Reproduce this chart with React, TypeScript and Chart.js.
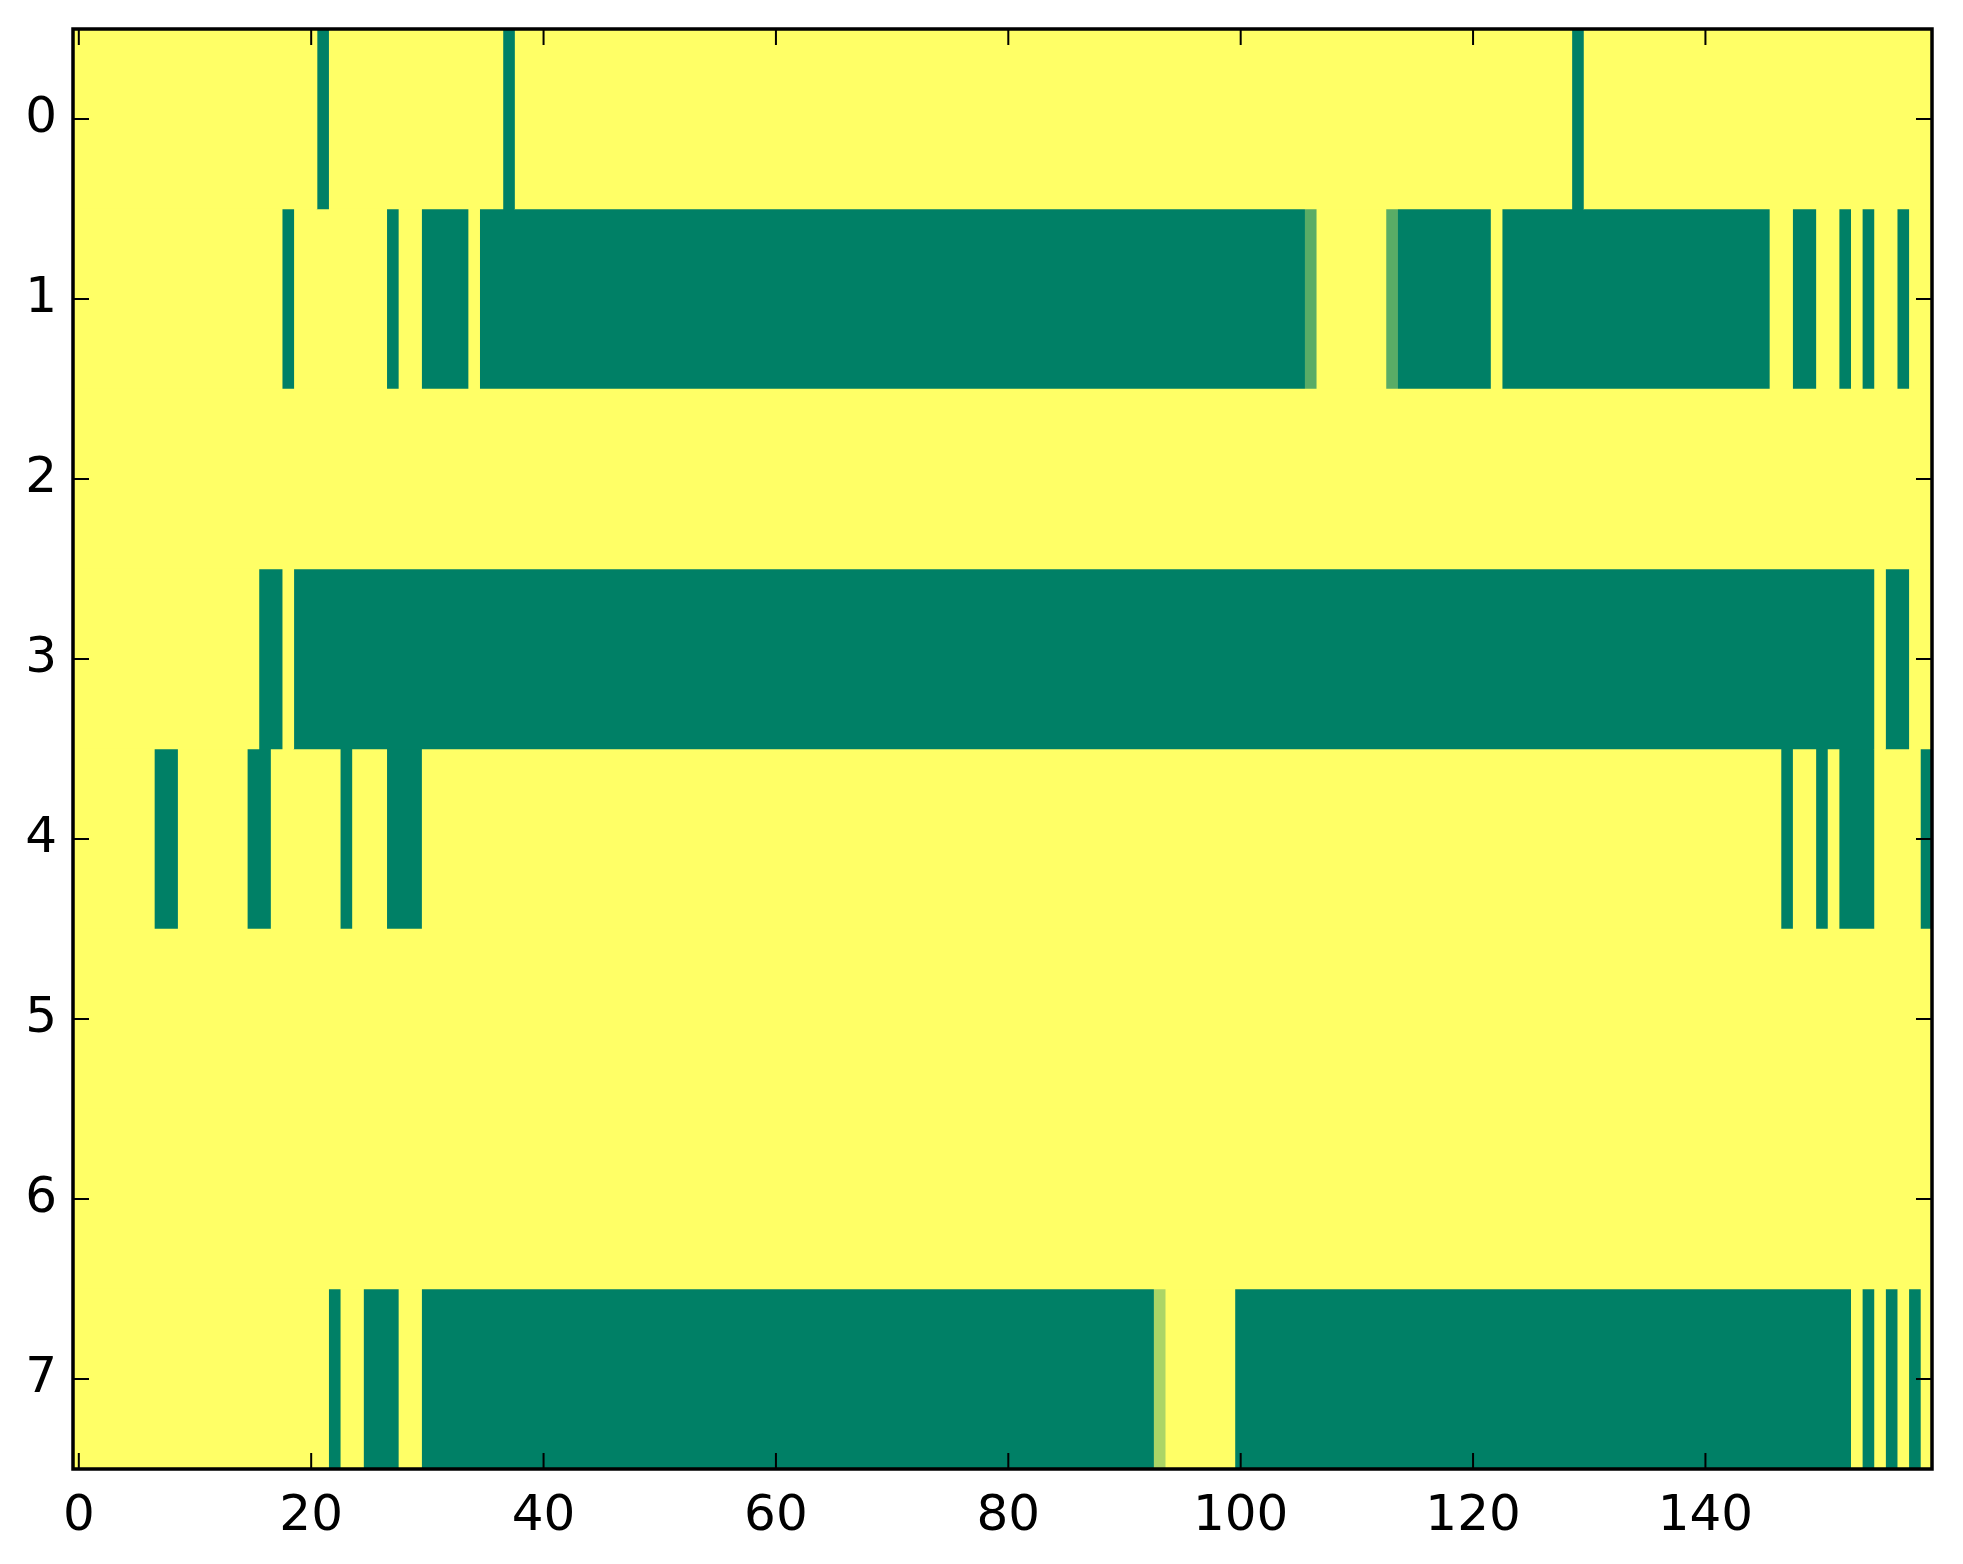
import React, { useEffect, useRef } from "react";
import { Chart, registerables } from "chart.js";

Chart.register(...registerables);

// Row labels (y axis, top to bottom) and x tick values
const rowLabels = ["0", "1", "2", "3", "4", "5", "6", "7"];
const xTickValues = [0, 20, 40, 60, 80, 100, 120, 140];
const columnCount = 160;
const backgroundValue = 1;

// Non-background cells per row: [firstColumn, lastColumn, value]
const row0 = [[21, 21, 0], [37, 37, 0], [129, 129, 0]];
const row1 = [
  [18, 18, 0], [27, 27, 0], [30, 33, 0], [35, 105, 0], [106, 106, 0.35],
  [113, 113, 0.35], [114, 121, 0], [123, 145, 0], [148, 149, 0],
  [152, 152, 0], [154, 154, 0], [157, 157, 0],
];
const row2: number[][] = [];
const row3 = [[16, 17, 0], [19, 154, 0], [156, 157, 0]];
const row4 = [
  [7, 8, 0], [15, 16, 0], [23, 23, 0], [27, 29, 0], [147, 147, 0],
  [150, 150, 0], [152, 154, 0], [159, 159, 0],
];
const row5: number[][] = [];
const row6: number[][] = [];
const row7 = [
  [22, 22, 0], [25, 27, 0], [30, 92, 0], [93, 93, 0.67], [100, 152, 0],
  [154, 154, 0], [156, 156, 0], [158, 158, 0],
];
const rowCells = [row0, row1, row2, row3, row4, row5, row6, row7];

// matplotlib "summer" colormap
function summer(v: number): string {
  const r = Math.round(255 * v);
  const g = Math.round(255 * (0.5 + 0.5 * v));
  return `rgb(${r}, ${g}, 102)`;
}

function buildMatrix(): number[][] {
  return rowCells.map((cells) => {
    const row = new Array(columnCount).fill(backgroundValue);
    cells.forEach(([a, b, v]) => {
      for (let c = a; c <= b; c++) row[c] = v;
    });
    return row;
  });
}

type Seg = { start: number; end: number; value: number };

function segmentsOf(row: number[]): Seg[] {
  const segs: Seg[] = [];
  let start = 0;
  for (let c = 1; c <= row.length; c++) {
    if (c === row.length || row[c] !== row[start]) {
      segs.push({ start, end: c - 1, value: row[start] });
      start = c;
    }
  }
  return segs;
}

const FONT = "'DejaVu Sans', 'Liberation Sans', sans-serif";

export default function App() {
  const canvasRef = useRef<HTMLCanvasElement | null>(null);

  useEffect(() => {
    document.body.style.margin = "0";
    const canvas = canvasRef.current;
    if (!canvas) return;

    const matrix = buildMatrix();
    const rowSegs = matrix.map(segmentsOf);
    const maxSegs = Math.max(...rowSegs.map((s) => s.length));
    const datasets: any[] = [];
    for (let k = 0; k < maxSegs; k++) {
      datasets.push({
        data: rowSegs.map((segs) =>
          segs[k] ? [segs[k].start - 0.5, segs[k].end + 0.5] : null
        ),
        backgroundColor: rowSegs.map((segs) =>
          segs[k] ? summer(segs[k].value) : "rgba(0,0,0,0)"
        ),
        borderWidth: 0,
        grouped: false,
        barPercentage: 1,
        categoryPercentage: 1,
      });
    }

    const frame = {
      id: "frame",
      afterDatasetsDraw(chart: any) {
        const { ctx, chartArea, scales } = chart;
        const { left, right, top, bottom } = chartArea;
        const tickLen = 16;
        ctx.save();
        ctx.strokeStyle = "#000";
        ctx.lineWidth = 2;
        ctx.beginPath();
        xTickValues.forEach((v) => {
          const px = scales.x.getPixelForValue(v);
          ctx.moveTo(px, bottom);
          ctx.lineTo(px, bottom - tickLen);
          ctx.moveTo(px, top);
          ctx.lineTo(px, top + tickLen);
        });
        rowLabels.forEach((_, i) => {
          const py = scales.y.getPixelForValue(i);
          ctx.moveTo(left, py);
          ctx.lineTo(left + tickLen, py);
          ctx.moveTo(right, py);
          ctx.lineTo(right - tickLen, py);
        });
        ctx.stroke();
        ctx.lineWidth = 3.5;
        ctx.strokeRect(left, top, right - left, bottom - top);
        ctx.restore();
      },
    };

    const chart = new Chart(canvas, {
      type: "bar",
      data: { labels: rowLabels, datasets },
      options: {
        indexAxis: "y",
        animation: false,
        responsive: true,
        maintainAspectRatio: false,
        devicePixelRatio: 1,
        layout: { padding: { left: 0, right: 31, top: 29, bottom: 0 } },
        plugins: {
          legend: { display: false },
          tooltip: { enabled: false },
        },
        scales: {
          x: {
            type: "linear",
            position: "bottom",
            min: -0.5,
            max: columnCount - 0.5,
            grid: { display: false, drawTicks: false },
            border: { display: false },
            afterBuildTicks: (s: any) => {
              s.ticks = xTickValues.map((v) => ({ value: v }));
            },
            afterFit: (s: any) => {
              s.height = 95;
              s.paddingLeft = 0;
              s.paddingRight = 0;
            },
            ticks: {
              autoSkip: false,
              maxRotation: 0,
              minRotation: 0,
              padding: 18,
              color: "#000",
              font: { family: FONT, size: 50 },
              callback: (v: any) => String(v),
            },
          },
          y: {
            type: "category",
            position: "left",
            grid: { display: false, drawTicks: false },
            border: { display: false },
            afterFit: (s: any) => {
              s.width = 73;
              s.paddingTop = 0;
              s.paddingBottom = 0;
            },
            ticks: {
              padding: 16,
              color: "#000",
              font: { family: FONT, size: 50 },
            },
          },
        },
      },
      plugins: [frame],
    });

    return () => chart.destroy();
  }, []);

  return (
    <div
      style={{
        position: "absolute",
        left: 0,
        top: 0,
        width: "1963px",
        height: "1564px",
        background: "#fff",
      }}
    >
      <canvas ref={canvasRef} />
    </div>
  );
}
